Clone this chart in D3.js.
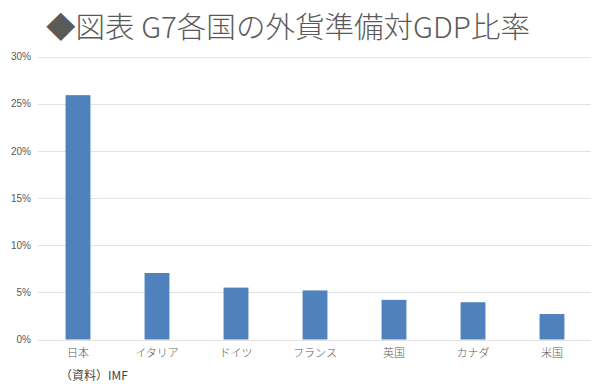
<!DOCTYPE html>
<html>
<head>
<meta charset="utf-8">
<script src="https://cdn.jsdelivr.net/npm/d3@7"></script>
<style>
  body { margin: 0; background: #fff; }
  text { font-family: "Noto Sans CJK JP", "Noto Sans", sans-serif; }
</style>
</head>
<body>
<div class="graph"></div>
<script>
let countries = ["日本", "イタリア", "ドイツ", "フランス", "英国", "カナダ", "米国"];
let ratios = [25.9, 7.05, 5.5, 5.2, 4.2, 3.95, 2.7];
let yTicks = [0, 5, 10, 15, 20, 25, 30];

let w = 600;
let h = 389;

let svg = d3
  .select(".graph")
  .append("svg")
  .attr("width", w)
  .attr("height", h);

svg
  .append("text")
  .attr("x", 46)
  .attr("y", 38)
  .attr("font-size", 29)
  .attr("font-weight", 300)
  .attr("fill", "#5a5a5a")
  .attr("textLength", 484)
  .attr("lengthAdjust", "spacingAndGlyphs")
  .text("◆図表 G7各国の外貨準備対GDP比率");

let xScale = d3
  .scaleBand()
  .domain(countries)
  .range([38.5, 591.5])
  .paddingInner(0.685)
  .paddingOuter(0.3425);

let yScale = d3.scaleLinear().domain([0, 30]).range([339.5, 56.5]);

// grid lines
svg
  .append("g")
  .selectAll("line")
  .data(yTicks)
  .enter()
  .append("line")
  .attr("x1", 38)
  .attr("x2", 591)
  .attr("y1", (d) => Math.round(yScale(d)) + 0.5)
  .attr("y2", (d) => Math.round(yScale(d)) + 0.5)
  .attr("stroke", "#e3e3e3")
  .attr("stroke-width", 1);

let yAxis = d3
  .axisLeft(yScale)
  .tickValues(yTicks)
  .tickFormat((d) => d + "%")
  .tickSize(0)
  .tickPadding(7);

let gy = svg.append("g").attr("transform", "translate(38, 0)").call(yAxis);
gy.select(".domain").remove();
gy.selectAll("text")
  .attr("font-size", 10)
  .attr("fill", "#595959")
  .style("font-family", '"Liberation Sans", sans-serif');

svg
  .append("g")
  .selectAll("rect")
  .data(countries)
  .enter()
  .append("rect")
  .attr("x", (d) => xScale(d))
  .attr("width", xScale.bandwidth())
  .attr("y", (d, i) => yScale(ratios[i]))
  .attr("height", (d, i) => yScale(0) - yScale(ratios[i]))
  .attr("fill", "#4f81bd");

let xAxis = d3.axisBottom(xScale).tickSize(0).tickPadding(9);
let gx = svg.append("g").attr("transform", "translate(0, 340)").call(xAxis);
gx.select(".domain").remove();
gx.selectAll("text").attr("font-size", 11).attr("font-weight", 300).attr("fill", "#595959");

svg
  .append("text")
  .attr("x", 60)
  .attr("y", 380)
  .attr("font-size", 12)
  .attr("fill", "#444")
  .text("（資料）IMF");
</script>
</body>
</html>
